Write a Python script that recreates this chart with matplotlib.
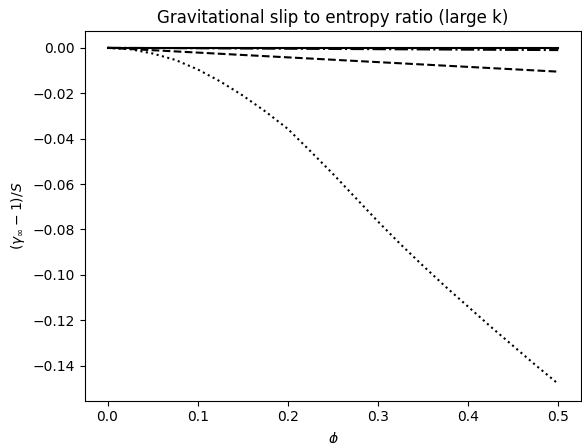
import matplotlib
matplotlib.use("Agg")
import matplotlib.pyplot as plt

# values
phi = [0.0, 0.025, 0.05, 0.075, 0.1, 0.125, 0.15, 0.175, 0.2, 0.225, 0.25,
       0.275, 0.3, 0.325, 0.35, 0.375, 0.4, 0.425, 0.45, 0.475, 0.5]
slip_dotted = [0.0, -0.0006, -0.0025, -0.0053, -0.0095, -0.0148, -0.021,
               -0.028, -0.0357, -0.0455, -0.0555, -0.066, -0.0765, -0.0865,
               -0.096, -0.1052, -0.114, -0.1228, -0.1313, -0.1398, -0.148]
phi_lin = [0.0, 0.5]
slip_dashed = [0.0, -0.0105]
slip_dashdot = [0.0, -0.001]
slip_solid = [0.0, 0.0]

fig, ax = plt.subplots(figsize=(5.82, 4.43), dpi=100)
fig.subplots_adjust(left=0.146, right=0.998, bottom=0.0955, top=0.930)

ax.plot(phi, slip_dotted, color='black', linestyle=':')
ax.plot(phi_lin, slip_dashed, color='black', linestyle='--')
ax.plot(phi_lin, slip_dashdot, color='black', linestyle='-.')
ax.plot(phi_lin, slip_solid, color='black', linestyle='-')

ax.set_title('Gravitational slip to entropy ratio (large k)')
ax.set_xlabel(r'$\phi$')
ax.set_ylabel(r'$(\gamma_\infty - 1)/S$')

fig.savefig('out.png', dpi=100)
